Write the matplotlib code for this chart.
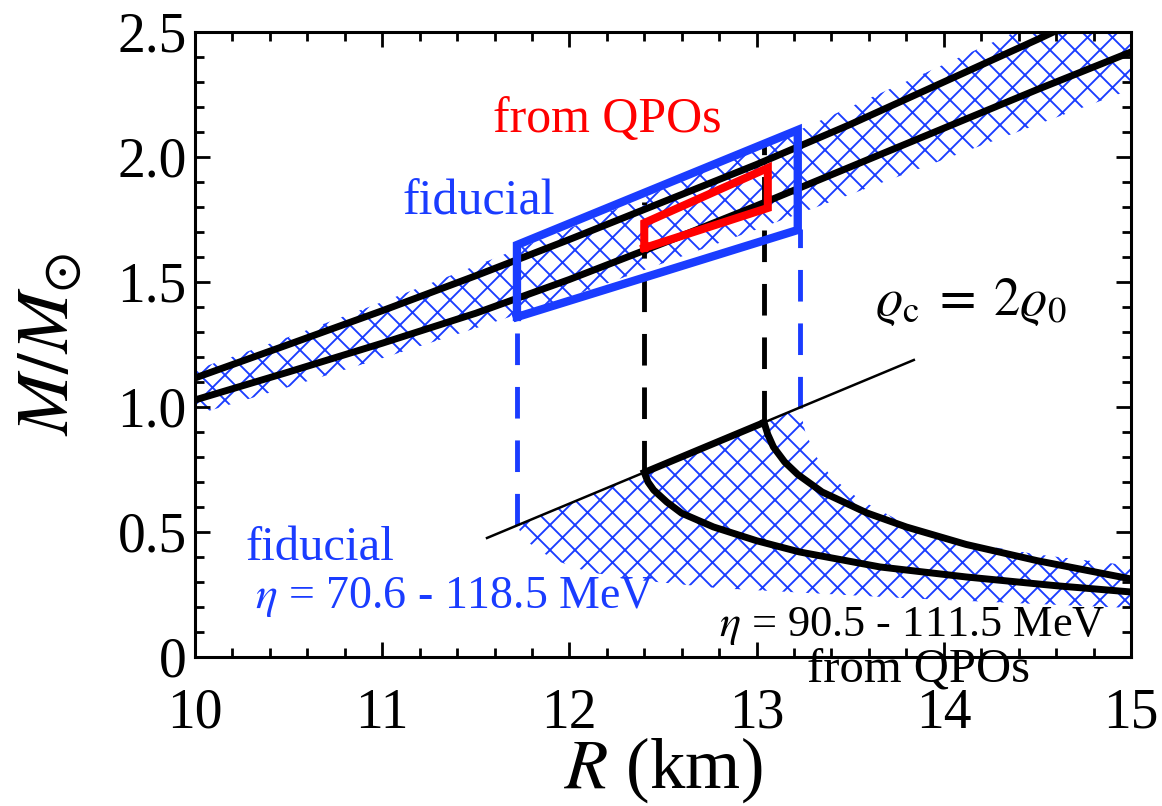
import matplotlib

matplotlib.use('Agg')
import matplotlib.pyplot as plt

DPI = 150
K = 100.0 / DPI  # sizes below were tuned for 100 dpi

plt.rcParams['font.family'] = ['Liberation Serif', 'DejaVu Serif']
plt.rcParams['mathtext.fontset'] = 'stix'
plt.rcParams['hatch.linewidth'] = 0.9

BLUE = '#1a3cff'

# M-R curves, high mass branch
r_hi = [10.0, 10.5, 11.0, 11.5, 12.0, 12.5, 13.0, 13.5, 14.0, 14.5, 14.6]
m_hi_a = [1.116, 1.25, 1.385, 1.525, 1.67, 1.82, 1.97, 2.13, 2.30, 2.47, 2.505]
r_hi_b = [10.0, 10.5, 11.0, 11.5, 12.0, 12.5, 13.0, 13.5, 14.0, 14.5, 15.0]
m_hi_b = [1.028, 1.14, 1.255, 1.375, 1.51, 1.655, 1.805, 1.96, 2.115, 2.27, 2.42]

# fiducial band edges (high mass)
r_band = [10.0, 10.5, 11.0, 11.5, 12.0, 12.5, 13.0, 13.5, 14.0, 14.5, 15.0]
band_top = [1.148, 1.28, 1.42, 1.565, 1.715, 1.87, 2.03, 2.20, 2.37, 2.54, 2.72]
band_bot = [0.968, 1.08, 1.195, 1.315, 1.44, 1.575, 1.71, 1.85, 1.99, 2.13, 2.27]

# low mass branch
r_rho = [11.56, 13.84]          # rho_c = 2 rho_0 line
m_rho = [0.476, 1.188]
r_c1 = [12.40, 12.42, 12.45, 12.52, 12.6, 12.77, 13.0, 13.23, 13.66, 14.12, 14.6, 15.0]
m_c1 = [0.738, 0.70, 0.668, 0.62, 0.575, 0.52, 0.465, 0.42, 0.36, 0.32, 0.285, 0.26]
r_c2 = [13.04, 13.06, 13.09, 13.15, 13.22, 13.35, 13.59, 13.8, 14.12, 14.5, 15.0]
m_c2 = [0.938, 0.89, 0.84, 0.78, 0.73, 0.66, 0.576, 0.52, 0.45, 0.385, 0.312]

# low mass fiducial region outline
r_low_top = [11.72, 13.23, 13.26, 13.32, 13.4, 13.55, 13.8, 14.1, 14.5, 15.0]
m_low_top = [0.526, 0.997, 0.90, 0.80, 0.72, 0.63, 0.53, 0.46, 0.41, 0.365]
r_low_bot = [11.72, 11.76, 11.85, 11.95, 12.1, 12.4, 12.8, 13.3, 13.8, 14.4, 15.0]
m_low_bot = [0.526, 0.47, 0.42, 0.38, 0.34, 0.305, 0.275, 0.255, 0.235, 0.215, 0.196]

# boxes
fid_r = [11.72, 11.72, 13.22, 13.22, 11.72]
fid_m = [1.36, 1.648, 2.108, 1.708, 1.36]
qpo_r = [12.40, 12.40, 13.06, 13.06, 12.40]
qpo_m = [1.636, 1.736, 1.956, 1.796, 1.636]

# dashed verticals: (R, M_bottom, M_top)
blue_dash = [(11.72, 0.526, 1.36), (13.23, 0.997, 1.71)]
black_dash = [(12.40, 0.738, 1.82), (13.04, 0.938, 2.06)]

fig = plt.figure(figsize=(1162 / DPI, 806 / DPI), dpi=DPI)
ax = fig.add_axes([0.1678, 0.1849, 0.8055, 0.7754])

ax.fill_between(r_band, band_bot, band_top, facecolor='none', edgecolor=BLUE,
                hatch='xx', linewidth=0, zorder=1)
low_r = r_low_top + r_low_bot[::-1]
low_m = m_low_top + m_low_bot[::-1]
ax.fill(low_r, low_m, facecolor='none', edgecolor=BLUE, hatch='xx',
        linewidth=0, zorder=1)

lw_curve = 5 * K
ax.plot(r_hi, m_hi_a, color='k', lw=lw_curve, zorder=3)
ax.plot(r_hi_b, m_hi_b, color='k', lw=lw_curve, zorder=3)
ax.plot(r_c1, m_c1, color='k', lw=lw_curve, zorder=3)
ax.plot(r_c2, m_c2, color='k', lw=lw_curve, zorder=3)
ax.plot(r_rho, m_rho, color='k', lw=1.8 * K, zorder=3)
# thick part of the rho_c line between the two curves
ax.plot([r_c1[0], r_c2[0]], [m_c1[0], m_c2[0]], color='k', lw=lw_curve,
        solid_capstyle='butt', zorder=3)

for r, m0, m1 in blue_dash:
    ax.plot([r, r], [m0, m1], color=BLUE, lw=3.5 * K, ls=(0, (6.5, 4.5)),
            dash_capstyle='butt', zorder=2)
for r, m0, m1 in black_dash:
    ax.plot([r, r], [m0, m1], color='k', lw=3.5 * K, ls=(0, (6.5, 4.5)),
            dash_capstyle='butt', zorder=2)

ax.plot(fid_r, fid_m, color=BLUE, lw=6 * K, solid_joinstyle='miter', zorder=4)
ax.plot(qpo_r, qpo_m, color='red', lw=5.8 * K, solid_joinstyle='miter', zorder=5)

ax.text(11.59, 2.10, 'from QPOs', color='red', fontsize=36 * K)
ax.text(11.11, 1.768, 'fiducial', color=BLUE, fontsize=36 * K)
ax.text(10.27, 0.388, 'fiducial', color=BLUE, fontsize=35 * K)
ax.text(10.32, 0.196, r'$\eta$ = 70.6 - 118.5 MeV', color=BLUE, fontsize=33 * K)
ax.text(12.80, 0.084, r'$\eta$ = 90.5 - 111.5 MeV', color='k', fontsize=32 * K)
ax.text(13.27, -0.10, 'from QPOs', color='k', fontsize=35 * K, clip_on=False)
ax.text(13.63, 1.368, r'$\varrho_{\rm c}\;=\;2\varrho_0$', color='k',
        fontsize=38 * K)

ax.set_xlim(10, 15)
ax.set_ylim(0, 2.5)
ax.set_xticks([10, 11, 12, 13, 14, 15])
ax.set_xticklabels(['10', '11', '12', '13', '14', '15'])
ax.set_yticks([0, 0.5, 1.0, 1.5, 2.0, 2.5])
ax.set_yticklabels(['0', '0.5', '1.0', '1.5', '2.0', '2.5'])
ax.set_xticks([10 + 0.2 * i for i in range(26)], minor=True)
ax.set_yticks([0.1 * i for i in range(26)], minor=True)
ax.tick_params(which='both', direction='in', top=True, right=True, width=2 * K)
ax.tick_params(which='major', length=11 * K, labelsize=40 * K)
ax.tick_params(which='minor', length=6.5 * K)
ax.tick_params(axis='x', pad=22 * K)
ax.tick_params(axis='y', pad=6 * K)
for s in ax.spines.values():
    s.set_linewidth(2.2 * K)

ax.set_xlabel(r'$R$ (km)', fontsize=51 * K, labelpad=-3 * K)
ax.set_ylabel(r'$M/M_{\odot}$', fontsize=53 * K, labelpad=24 * K)

plt.savefig('out.png', dpi=DPI)
